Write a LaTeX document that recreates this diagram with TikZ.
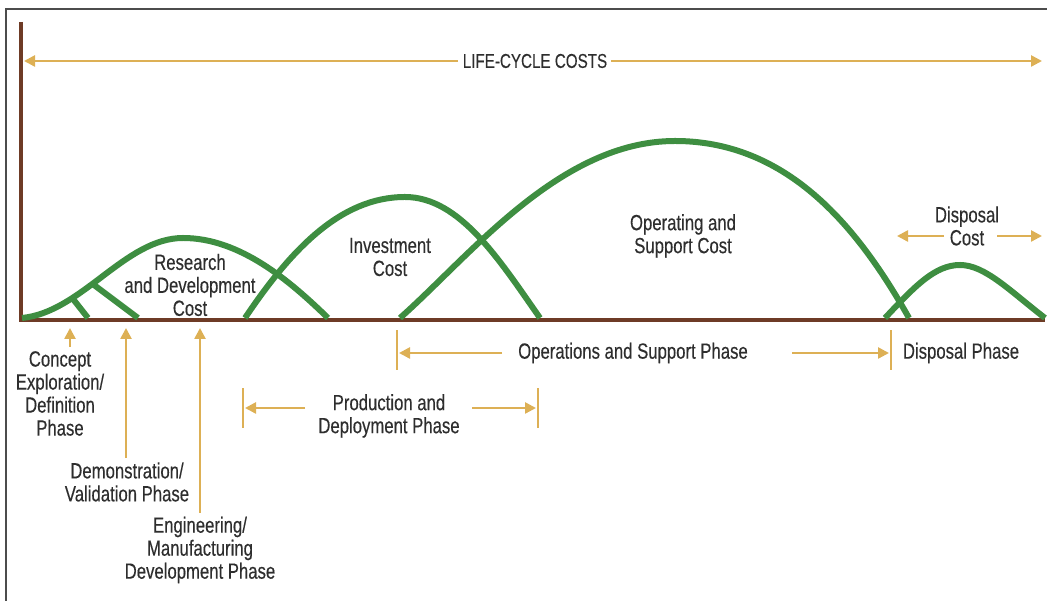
\documentclass[tikz,border=0pt]{standalone}
\usepackage{fontspec}
\setmainfont{Liberation Sans}[FakeStretch=0.76,FakeBold=0.3]
\usetikzlibrary{arrows.meta,positioning}

\definecolor{lcgreen}{HTML}{3E8E41}
\definecolor{lcbrown}{HTML}{6E3B26}
\definecolor{lcgold}{HTML}{DDB055}
\definecolor{lctext}{HTML}{2E2E2E}

\tikzset{
  costcurve/.style={lcgreen, line width=6pt},
  axisline/.style={lcbrown, line width=4pt},
  goldarrow/.style={lcgold, line width=2.5pt, -{Triangle[length=11pt,width=11pt]}},
  phasebar/.style={lcgold, line width=2.5pt},
  lbl/.style={align=center, text=lctext, inner sep=0pt,
    font=\fontsize{22}{23}\selectfont},
}

\begin{document}
\begin{tikzpicture}[x=1pt,y=1pt]
  \useasboundingbox (0,0) rectangle (1047,601);
  \draw[black!70, line width=1.5pt] (6,0) -- (6,592) -- (1047,592);

  % axes
  \coordinate (origin) at (21,281);
  \draw[axisline] (21,579) -- (origin) -- (1045,281);

  % life-cycle span
  \node[lbl, font=\fontsize{20}{21}\selectfont] (lcc) at (535,540) {LIFE-CYCLE COSTS};
  \coordinate (lccL) at (24,540);
  \coordinate (lccR) at (1042,540);
  \draw[goldarrow] ([xshift=-5pt]lcc.west) -- (lccL);
  \draw[goldarrow] ([xshift=4pt]lcc.east) -- (lccR);

  % cost curves
  \draw[costcurve] (22,283) .. controls (82,289) and (125,363) .. (183,363)
    coordinate[pos=0.3] (tickA) coordinate[pos=0.43] (tickB)
    .. controls (240,363) and (290,320) .. (328,283);
  \draw[costcurve] (tickA) -- (88,283);
  \draw[costcurve] (tickB) -- (138,283);
  \draw[costcurve] (245,283) .. controls (290,350) and (340,404) .. (405,404)
    .. controls (460,404) and (500,340) .. (540,283);
  \draw[costcurve] (400,283) .. controls (470,345) and (560,460) .. (675,460)
    .. controls (790,460) and (860,370) .. (909,283);
  \draw[costcurve] (885,283) .. controls (915,315) and (935,336) .. (960,336)
    .. controls (985,336) and (1010,310) .. (1045,283);

  \node[lbl] (rdcost) at (190,316) {Research\\and Development\\Cost};
  \node[lbl] (invcost) at (390,344) {Investment\\Cost};
  \node[lbl] (oscost) at (683,365) {Operating and\\Support Cost};
  \node[lbl] (dispcost) at (967,375) {Disposal\\Cost};
  \coordinate (dcL0) at (944,365);
  \coordinate (dcL) at (897,365);
  \coordinate (dcR0) at (997,365);
  \coordinate (dcR) at (1042,365);
  \draw[goldarrow] (dcL0) -- (dcL);
  \draw[goldarrow] (dcR0) -- (dcR);

  % early phases
  \node[lbl, anchor=north] (concept) at (60,250) {Concept\\Exploration/\\Definition\\Phase};
  \node[lbl] (demo) at (127,119) {Demonstration/\\Validation Phase};
  \node[lbl] (engdev) at (200,51) {Engineering/\\Manufacturing\\Development Phase};
  \foreach \lab/\ax in {concept/70,demo/126,engdev/200}
    \draw[goldarrow, shorten <=4pt] (\ax,0 |- \lab.north) -- (\ax,273);

  % production and deployment
  \node[lbl] (prod) at (389,185) {Production and\\Deployment Phase};
  \coordinate (prodL) at (245,193);
  \coordinate (prodR) at (536,193);
  \draw[phasebar] (243,173) -- (243,213);
  \draw[phasebar] (538,173) -- (538,213);
  \draw[goldarrow] (305,193) -- (prodL);
  \draw[goldarrow] (472,193) -- (prodR);

  % operations and support, disposal
  \node[lbl] (ops) at (633,248) {Operations and Support Phase};
  \node[lbl] (disp) at (961,248) {Disposal Phase};
  \coordinate (opsL) at (399,248);
  \coordinate (opsR) at (889,248);
  \draw[phasebar] (397,231) -- (397,271);
  \draw[phasebar] (891,231) -- (891,271);
  \draw[goldarrow] ([xshift=-16pt]ops.west) -- (opsL);
  \draw[goldarrow] ([xshift=44pt]ops.east) -- (opsR);
\end{tikzpicture}
\end{document}
